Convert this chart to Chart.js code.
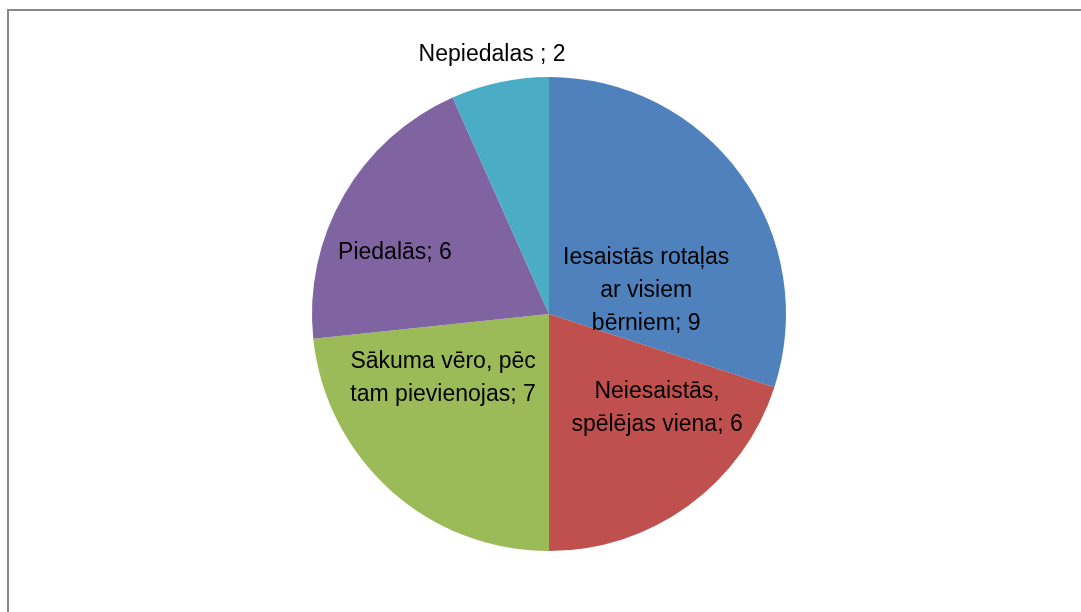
<!DOCTYPE html>
<html>
<head>
<meta charset="utf-8">
<script src="https://cdn.jsdelivr.net/npm/chart.js@4"></script>
<style>
  body { margin: 0; background: #fff; }
  #wrap { position: relative; width: 1081px; height: 612px; }
  #frame { position: absolute; left: 7px; top: 9px; right: -10px; bottom: -10px;
           border-left: 2px solid #898989; border-top: 2px solid #898989; }
  canvas { position: absolute; left: 0; top: 0; }
</style>
</head>
<body>
<div id="wrap">
  <div id="frame"></div>
  <canvas id="myPieChart" width="1081" height="612"></canvas>
</div>
<script>
var categories = [
    ['Iesaistās rotaļas', 'ar visiem', 'bērniem; 9'],
    ['Neiesaistās,', 'spēlējas viena; 6'],
    ['Sākuma vēro, pēc', 'tam pievienojas; 7'],
    ['Piedalās; 6'],
    ['Nepiedalas ; 2']
];
var values = [9, 6, 7, 6, 2];
var colors = ['#4F81BD', '#C0504D', '#9BBB59', '#8064A2', '#4BACC6'];
// label centre offsets from the pie centre, in units of the radius
var labelOffsets = [[0.41, -0.10], [0.456, 0.397], [-0.447, 0.27], [-0.65, -0.257], [-0.24, -1.093]];

var sliceLabels = {
    id: 'sliceLabels',
    afterDatasetsDraw: function (chart) {
        var ctx = chart.ctx;
        var meta = chart.getDatasetMeta(0);
        ctx.save();
        ctx.font = '23px "Liberation Sans", Arial, sans-serif';
        ctx.fillStyle = '#000';
        ctx.textAlign = 'center';
        ctx.textBaseline = 'middle';
        meta.data.forEach(function (arc, i) {
            var r = arc.outerRadius;
            var cx = arc.x + labelOffsets[i][0] * r;
            var cy = arc.y + labelOffsets[i][1] * r;
            var lines = categories[i];
            var lh = 33;
            lines.forEach(function (line, j) {
                ctx.fillText(line, cx, cy + (j - (lines.length - 1) / 2) * lh);
            });
        });
        ctx.restore();
    }
};

document.addEventListener('DOMContentLoaded', function () {
    var ctx = document.getElementById('myPieChart').getContext('2d');
    new Chart(ctx, {
        type: 'pie',
        data: {
            labels: categories.map(function (c) { return c.join(' '); }),
            datasets: [{
                data: values,
                backgroundColor: colors,
                borderWidth: 0
            }]
        },
        options: {
            responsive: false,
            animation: false,
            layout: { padding: { top: 77, bottom: 61, left: 100, right: 83 } },
            plugins: {
                legend: { display: false },
                tooltip: { enabled: false }
            }
        },
        plugins: [sliceLabels]
    });
});
</script>
</body>
</html>
